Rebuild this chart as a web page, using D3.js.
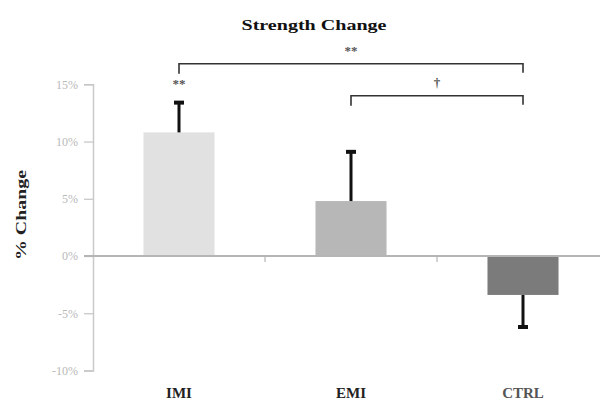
<!DOCTYPE html>
<html>
<head>
<meta charset="utf-8">
<script src="https://cdn.jsdelivr.net/npm/d3@7"></script>
<style>
  body { margin: 0; background: #fff; }
  svg { display: block; font-family: "Liberation Serif", "DejaVu Serif", serif; }
</style>
</head>
<body>
<div id="chart"></div>
<script>
var groups = ["IMI", "EMI", "CTRL"];
var changes = [10.8, 4.8, -3.4];       // % change
var errorEnds = [13.4, 9.1, -6.2];     // end of the error bar
var barColors = ["#e1e1e1", "#b7b7b7", "#7b7b7b"];
var yTicks = [15, 10, 5, 0, -5, -10];
var yTickLabels = ["15%", "10%", "5%", "0%", "-5%", "-10%"];

// significance brackets: from group, to group, level (%), mark
var brackets = [
  { from: "IMI", to: "CTRL", level: 16.8, mark: "**", markAt: 0.5 },
  { from: "EMI", to: "CTRL", level: 14.0, mark: "\u2020", markAt: 0.5 }
];
var barMarks = [{ group: "IMI", level: 14.8, mark: "**" }];

var W = 600, H = 410;
var svg = d3.select("#chart").append("svg")
  .attr("width", W)
  .attr("height", H);

var x = d3.scaleBand()
  .domain(groups)
  .range([93, 609])
  .paddingInner(0.587)
  .paddingOuter(0.2935);

var y = d3.scaleLinear()
  .domain([-10, 15])
  .range([370.5, 84.3]);

function cx(g) { return x(g) + x.bandwidth() / 2; }

// title
svg.append("text")
  .attr("x", 314)
  .attr("y", 30)
  .attr("text-anchor", "middle")
  .attr("font-size", 15)
  .attr("font-weight", "bold")
  .attr("textLength", 145)
  .attr("lengthAdjust", "spacingAndGlyphs")
  .attr("fill", "#111")
  .text("Strength Change");

// y axis label
svg.append("text")
  .attr("transform", "translate(26,215) rotate(-90)")
  .attr("text-anchor", "middle")
  .attr("font-size", 15)
  .attr("font-weight", "bold")
  .attr("textLength", 90)
  .attr("lengthAdjust", "spacingAndGlyphs")
  .attr("fill", "#222")
  .text("% Change");

// y axis
var yAxis = svg.append("g")
  .attr("transform", "translate(93,0)")
  .call(d3.axisLeft(y)
    .tickValues(yTicks)
    .tickSize(9)
    .tickPadding(6)
    .tickFormat(function(d, i) { return yTickLabels[i]; }));
yAxis.select(".domain").attr("stroke", "#c9c9c9").attr("stroke-width", 1.5);
yAxis.selectAll(".tick line").attr("stroke", "#c4c4c4").attr("stroke-width", 1.2);
yAxis.selectAll(".tick text")
  .attr("fill", "#b9b9b9")
  .attr("font-size", 12)
  .attr("font-family", "Liberation Serif, serif");

// bars
svg.selectAll("rect.bar")
  .data(groups)
  .enter()
  .append("rect")
    .attr("class", "bar")
    .attr("x", function(d) { return x(d); })
    .attr("width", x.bandwidth())
    .attr("y", function(d, i) { return y(Math.max(0, changes[i])); })
    .attr("height", function(d, i) { return Math.abs(y(changes[i]) - y(0)); })
    .attr("fill", function(d, i) { return barColors[i]; });

// zero line with minor ticks between groups
svg.append("line")
  .attr("x1", 84).attr("x2", W)
  .attr("y1", y(0)).attr("y2", y(0))
  .attr("stroke", "#b5b5b5")
  .attr("stroke-width", 2);

var dividers = groups.slice(1).map(function(g) { return x(g) - x.step() * x.paddingInner() / 2; });
svg.selectAll("line.divider")
  .data(dividers)
  .enter()
  .append("line")
    .attr("class", "divider")
    .attr("x1", function(d) { return d; })
    .attr("x2", function(d) { return d; })
    .attr("y1", y(0))
    .attr("y2", y(0) + 6)
    .attr("stroke", "#b5b5b5")
    .attr("stroke-width", 1.2);

// error bars
svg.selectAll("line.err")
  .data(groups)
  .enter()
  .append("line")
    .attr("class", "err")
    .attr("x1", cx).attr("x2", cx)
    .attr("y1", function(d, i) { return y(changes[i]); })
    .attr("y2", function(d, i) { return y(errorEnds[i]); })
    .attr("stroke", "#111")
    .attr("stroke-width", 3);

svg.selectAll("line.cap")
  .data(groups)
  .enter()
  .append("line")
    .attr("class", "cap")
    .attr("x1", function(d) { return cx(d) - 5; })
    .attr("x2", function(d) { return cx(d) + 5; })
    .attr("y1", function(d, i) { return y(errorEnds[i]); })
    .attr("y2", function(d, i) { return y(errorEnds[i]); })
    .attr("stroke", "#111")
    .attr("stroke-width", 4);

// significance brackets
brackets.forEach(function(b) {
  var x1 = cx(b.from), x2 = cx(b.to), yy = y(b.level);
  svg.append("path")
    .attr("d", "M" + x1 + "," + (yy + 10) + "V" + yy + "H" + x2 + "V" + (yy + 9))
    .attr("fill", "none")
    .attr("stroke", "#333")
    .attr("stroke-width", 1.6);
  svg.append("text")
    .attr("x", x1 + (x2 - x1) * b.markAt)
    .attr("y", yy - 9)
    .attr("text-anchor", "middle")
    .attr("font-size", 13)
    .attr("font-weight", "bold")
    .attr("fill", "#555")
    .text(b.mark);
});

barMarks.forEach(function(m) {
  svg.append("text")
    .attr("x", cx(m.group))
    .attr("y", y(m.level) + 1)
    .attr("text-anchor", "middle")
    .attr("font-size", 13)
    .attr("font-weight", "bold")
    .attr("fill", "#555")
    .text(m.mark);
});

// group labels
svg.selectAll("text.group")
  .data(groups)
  .enter()
  .append("text")
    .attr("class", "group")
    .attr("x", cx)
    .attr("y", 398)
    .attr("text-anchor", "middle")
    .attr("font-size", 15)
    .attr("font-weight", "bold")
    .attr("fill", function(d, i) { return i == 2 ? "#555" : "#222"; })
    .text(function(d) { return d; });
</script>
</body>
</html>
